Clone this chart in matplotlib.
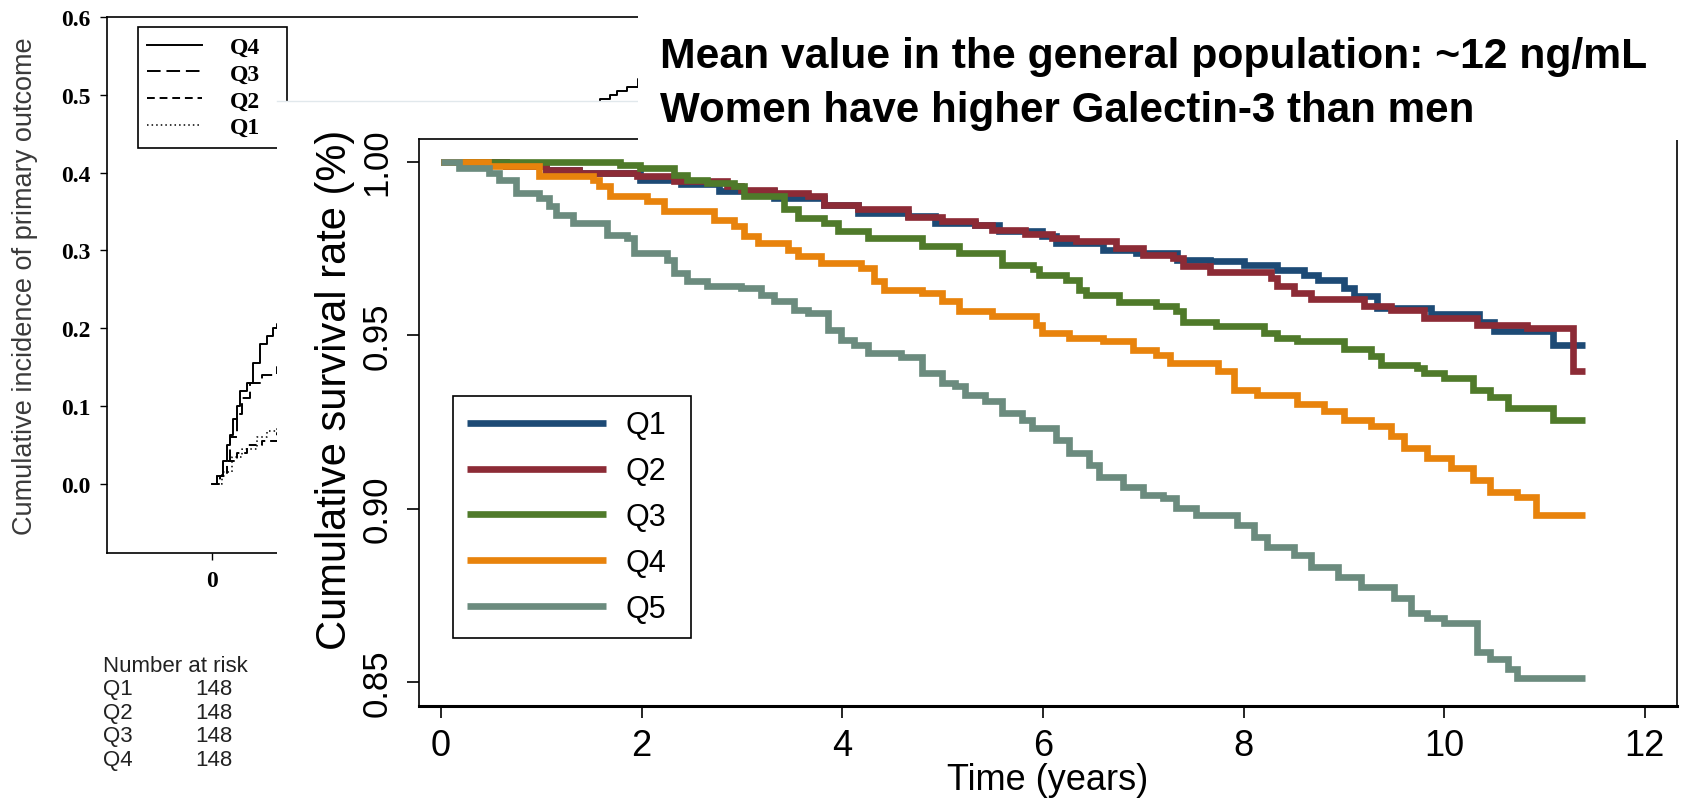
import matplotlib
matplotlib.use("Agg")
import matplotlib.pyplot as plt
from matplotlib import font_manager
from matplotlib.lines import Line2D
from matplotlib.patches import Rectangle

# ---- main Kaplan-Meier curves (years, survival) ----
t_q1 = [0, 0.65, 1.05, 1.38, 1.98, 2.39, 2.77, 3.32, 3.82, 4.16, 4.66, 4.92, 5.32, 5.56, 5.99, 6.13,
        6.60, 6.93, 7.34, 7.67, 8.00, 8.33, 8.60, 8.74, 9.00, 9.10, 9.33, 9.87, 10.35, 10.50, 11.08, 11.40]
s_q1 = [1.000, 0.9986, 0.9977, 0.9967, 0.9948, 0.9934, 0.9914, 0.9895, 0.9876, 0.9852, 0.9842, 0.9823,
        0.9818, 0.9799, 0.9785, 0.9765, 0.9746, 0.9736, 0.9717, 0.9712, 0.9703, 0.9688, 0.9674, 0.9660,
        0.9636, 0.9612, 0.9578, 0.9562, 0.9539, 0.9513, 0.9470, 0.9470]

t_q2 = [0, 0.65, 1.05, 1.38, 1.95, 2.32, 2.85, 2.99, 3.32, 3.66, 3.82, 4.16, 4.66, 4.99, 5.32, 5.49,
        5.82, 6.09, 6.33, 6.73, 7.00, 7.30, 7.40, 7.67, 8.27, 8.33, 8.50, 8.67, 9.20, 9.47, 9.80, 10.33,
        10.82, 11.28, 11.40]
s_q2 = [1.000, 0.9986, 0.9977, 0.9967, 0.9958, 0.9943, 0.9929, 0.9919, 0.9910, 0.9900, 0.9876, 0.9862,
        0.9840, 0.9830, 0.9818, 0.9804, 0.9790, 0.9780, 0.9770, 0.9751, 0.9732, 0.9722, 0.9698, 0.9682,
        0.9664, 0.9640, 0.9621, 0.9605, 0.9583, 0.9573, 0.9549, 0.9529, 0.9519, 0.9397, 0.9397]

t_q3 = [0, 1.78, 1.98, 2.32, 2.45, 2.65, 2.92, 3.02, 3.42, 3.56, 3.82, 3.96, 4.26, 4.79, 5.16, 5.59,
        5.90, 5.96, 6.23, 6.36, 6.43, 6.76, 7.13, 7.33, 7.40, 7.73, 8.20, 8.33, 8.53, 9.00, 9.27, 9.37,
        9.73, 9.80, 10.00, 10.29, 10.46, 10.64, 11.08, 11.40]
s_q3 = [1.000, 0.9991, 0.9982, 0.9962, 0.9948, 0.9939, 0.9929, 0.9900, 0.9862, 0.9838, 0.9823, 0.9799,
        0.9780, 0.9756, 0.9737, 0.9703, 0.9689, 0.9674, 0.9660, 0.9631, 0.9616, 0.9595, 0.9583, 0.9568,
        0.9539, 0.9525, 0.9506, 0.9491, 0.9482, 0.9460, 0.9439, 0.9415, 0.9405, 0.9391, 0.9376, 0.9341,
        0.9321, 0.9291, 0.9255, 0.9255]

t_q4 = [0, 0.47, 0.98, 1.52, 1.58, 1.68, 2.05, 2.22, 2.72, 2.92, 3.02, 3.16, 3.46, 3.56, 3.79, 4.19,
        4.32, 4.42, 4.79, 4.99, 5.16, 5.49, 5.93, 5.99, 6.26, 6.60, 6.90, 7.13, 7.27, 7.74, 7.90, 8.13,
        8.53, 8.80, 9.00, 9.27, 9.47, 9.60, 9.83, 10.07, 10.29, 10.46, 10.73, 10.91, 11.40]
s_q4 = [1.000, 0.9986, 0.9958, 0.9948, 0.9929, 0.9900, 0.9885, 0.9857, 0.9833, 0.9813, 0.9785, 0.9765,
        0.9746, 0.9727, 0.9708, 0.9693, 0.9655, 0.9631, 0.9621, 0.9597, 0.9568, 0.9554, 0.9530, 0.9506,
        0.9491, 0.9482, 0.9458, 0.9443, 0.9419, 0.9395, 0.9342, 0.9328, 0.9300, 0.9280, 0.9256, 0.9237,
        0.9208, 0.9174, 0.9145, 0.9117, 0.9083, 0.9048, 0.9033, 0.8982, 0.8982]

t_q5 = [0, 0.18, 0.48, 0.58, 0.75, 0.98, 1.08, 1.15, 1.32, 1.65, 1.85, 1.92, 2.25, 2.32, 2.45, 2.65,
        2.99, 3.19, 3.32, 3.52, 3.66, 3.86, 3.99, 4.12, 4.26, 4.59, 4.79, 4.99, 5.12, 5.22, 5.42, 5.59,
        5.79, 5.89, 6.13, 6.26, 6.46, 6.56, 6.80, 7.00, 7.20, 7.33, 7.53, 7.93, 8.10, 8.23, 8.50, 8.67,
        8.94, 9.17, 9.50, 9.67, 9.83, 10.00, 10.33, 10.46, 10.64, 10.73, 11.40]
s_q5 = [1.000, 0.9982, 0.9967, 0.9948, 0.9910, 0.9895, 0.9871, 0.9847, 0.9823, 0.9789, 0.9780, 0.9737,
        0.9717, 0.9679, 0.9655, 0.9640, 0.9636, 0.9616, 0.9597, 0.9573, 0.9564, 0.9515, 0.9487, 0.9472,
        0.9448, 0.9438, 0.9391, 0.9362, 0.9352, 0.9328, 0.9309, 0.9275, 0.9256, 0.9232, 0.9198, 0.9160,
        0.9126, 0.9092, 0.9063, 0.9039, 0.9030, 0.9001, 0.8982, 0.8953, 0.8919, 0.8890, 0.8866, 0.8833,
        0.8804, 0.8775, 0.8742, 0.8698, 0.8684, 0.8669, 0.8587, 0.8567, 0.8537, 0.8511, 0.8511]

main_labels = ["Q1", "Q2", "Q3", "Q4", "Q5"]
main_colors = ["#1d4a75", "#8c2b36", "#4f7a2a", "#e8830c", "#6b8b7e"]
main_xticks = [0, 2, 4, 6, 8, 10, 12]
main_yticks = [0.85, 0.90, 0.95, 1.00]

# ---- background (partly hidden) cumulative incidence plot ----
bg_t_q4 = [0, 0.05, 0.11, 0.15, 0.18, 0.21, 0.25, 0.28, 0.35, 0.41, 0.48, 0.55, 0.61, 0.65, 1.0, 1.5,
           2.0, 2.5, 3.0, 3.5, 3.88, 3.98, 4.05, 4.15, 4.26, 4.5]
bg_s_q4 = [0, 0.01, 0.03, 0.05, 0.063, 0.083, 0.10, 0.12, 0.13, 0.155, 0.18, 0.19, 0.20, 0.205, 0.26,
           0.33, 0.38, 0.42, 0.45, 0.475, 0.495, 0.50, 0.505, 0.51, 0.52, 0.53]
bg_t_q3 = [0, 0.05, 0.11, 0.18, 0.25, 0.3, 0.38, 0.5, 0.65, 1.0]
bg_s_q3 = [0, 0.01, 0.03, 0.06, 0.09, 0.11, 0.13, 0.14, 0.15, 0.19]
bg_t_q2 = [0, 0.08, 0.15, 0.25, 0.35, 0.5, 0.65, 1.0]
bg_s_q2 = [0, 0.01, 0.03, 0.04, 0.05, 0.055, 0.065, 0.09]
bg_t_q1 = [0, 0.1, 0.2, 0.3, 0.45, 0.55, 0.65, 1.0]
bg_s_q1 = [0, 0.015, 0.035, 0.045, 0.06, 0.068, 0.072, 0.095]
bg_yticks = [0.0, 0.1, 0.2, 0.3, 0.4, 0.5, 0.6]
bg_xticks = [0, 2, 4, 6, 8, 10, 12]

risk_groups = ["Q1", "Q2", "Q3", "Q4"]
risk_counts = [148, 148, 148, 148]

W, H = 1682, 804


def fig_box(left, top, right, bottom):
    """Pixel box (from top-left) -> figure fraction rect."""
    return [left / W, 1 - bottom / H, (right - left) / W, (bottom - top) / H]


installed = {f.name for f in font_manager.fontManager.ttflist}
SANS = "Liberation Sans"
NARROW = "Liberation Sans Narrow" if "Liberation Sans Narrow" in installed else SANS
SERIF = "Liberation Serif"
plt.rcParams["font.family"] = SANS

fig = plt.figure(figsize=(W / 100, H / 100), dpi=100)

# background chart
ax_bg = fig.add_axes(fig_box(107, 18, 1600, 554))
ax_bg.plot(bg_t_q4, bg_s_q4, color="black", lw=1.4, drawstyle="steps-post")
ax_bg.plot(bg_t_q3, bg_s_q3, color="black", lw=1.4, drawstyle="steps-post", dashes=(7, 3))
ax_bg.plot(bg_t_q2, bg_s_q2, color="black", lw=1.4, drawstyle="steps-post", dashes=(4, 2.5))
ax_bg.plot(bg_t_q1, bg_s_q1, color="black", lw=1.1, drawstyle="steps-post", dashes=(1, 2))
ax_bg.set_xlim(-1.05, 13.88)
ax_bg.set_ylim(-0.0887, 0.6)
ax_bg.set_yticks(bg_yticks)
ax_bg.set_yticklabels([f"{v:.1f}" for v in bg_yticks], family=SERIF, fontweight="bold", fontsize=17)
ax_bg.set_xticks(bg_xticks)
ax_bg.set_xticklabels([str(v) for v in bg_xticks], family=SERIF, fontweight="bold", fontsize=17)
ax_bg.tick_params(length=5, width=1, pad=7)
for sp in ax_bg.spines.values():
    sp.set_linewidth(1.2)
ax_bg.set_ylabel("Cumulative incidence of primary outcome", fontsize=19.5, color="#3a3a3a")
ax_bg.yaxis.set_label_coords(-0.046, 0.5)

bg_handles = [Line2D([], [], color="black", lw=1.4),
              Line2D([], [], color="black", lw=1.4, dashes=(7, 3)),
              Line2D([], [], color="black", lw=1.4, dashes=(4, 2.5)),
              Line2D([], [], color="black", lw=1.1, dashes=(1, 2))]
bg_leg = ax_bg.legend(bg_handles, ["Q4", "Q3", "Q2", "Q1"], loc="upper left",
                      bbox_to_anchor=(138 / W, 1 - 163 / H, (287 - 138) / W, (163 - 28) / H),
                      bbox_transform=fig.transFigure, mode="expand", borderaxespad=0,
                      prop={"family": SERIF, "weight": "bold", "size": 17},
                      handlelength=2.3, handletextpad=1.2, labelspacing=0.22, borderpad=0.4,
                      frameon=True, fancybox=False, edgecolor="black", framealpha=1)
bg_leg.get_frame().set_linewidth(1.2)

fig.text(103 / W, 1 - 667 / H, "Number at risk", fontsize=16, va="center", color="#222222")
for i, (g, n) in enumerate(zip(risk_groups, risk_counts)):
    y = 690 + i * 23.4
    fig.text(103 / W, 1 - y / H, g, fontsize=16, va="center", color="#222222")
    fig.text(195 / W, 1 - y / H, str(n), fontsize=16, va="center", color="#222222")

# white panel of the pasted survival chart
ax_panel = fig.add_axes(fig_box(277, 102, W, H))
ax_panel.set_xticks([])
ax_panel.set_yticks([])
for name, sp in ax_panel.spines.items():
    sp.set_visible(name == "top")
ax_panel.spines["top"].set_color("#e1e8ec")
ax_panel.spines["top"].set_linewidth(1.0)

# main survival chart
ax = fig.add_axes(fig_box(419, 140, 1677, 707))
series = [(t_q1, s_q1), (t_q2, s_q2), (t_q3, s_q3), (t_q4, s_q4), (t_q5, s_q5)]
for (t, s), c, lab in zip(series, main_colors, main_labels):
    ax.plot(t, s, drawstyle="steps-post", color=c, lw=4.8, label=lab,
            solid_joinstyle="miter", solid_capstyle="butt")
ax.set_xlim(-0.219, 12.32)
ax.set_ylim(0.8431, 1.0065)
ax.set_xticks(main_xticks)
ax.set_xticklabels([str(v) for v in main_xticks], fontsize=26)
ax.set_yticks(main_yticks)
ax.set_yticklabels([f"{v:.2f}" for v in main_yticks], fontsize=25, rotation=90, va="center")
ax.tick_params(axis="x", length=8.6, width=1.2, pad=7)
ax.tick_params(axis="y", length=8.6, width=1.2, pad=9.5)
for name, sp in ax.spines.items():
    sp.set_linewidth(2.2 if name == "bottom" else 1.2)
ax.set_xlabel("Time (years)", fontsize=26)
ax.xaxis.set_label_coords(0.5, -0.0988)
ax.set_ylabel("Cumulative survival rate (%)", fontsize=30)
ax.yaxis.set_label_coords(-0.051, 0.559)

leg = ax.legend(loc="upper left",
                bbox_to_anchor=(453 / W, 1 - 664 / H, (691 - 453) / W, (664 - 397) / H),
                bbox_transform=fig.transFigure, mode="expand", borderaxespad=0,
                prop={"family": SANS, "size": 22}, handlelength=4.54, handletextpad=0.62,
                labelspacing=0.52, borderpad=0.47, frameon=True, fancybox=False,
                edgecolor="black", framealpha=1)
leg.get_frame().set_linewidth(1.2)

# white text box pasted on top
fig.add_artist(Rectangle((638 / W, 1 - 141 / H), 1 - 638 / W, 141 / H, transform=fig.transFigure,
                         facecolor="white", edgecolor="none", zorder=2))
line1 = fig.text(660 / W, 1 - 68 / H, "Mean value in the general population: ~12 ng/mL",
                 family=NARROW, fontweight="bold", fontsize=40, va="baseline", zorder=3)
line2 = fig.text(660 / W, 1 - 122 / H, "Women have higher Galectin-3 than men",
                 family=NARROW, fontweight="bold", fontsize=40, va="baseline", zorder=3)

# fit both lines to the measured widths
renderer = fig.canvas.get_renderer()
for txt, target in ((line1, 985), (line2, 812)):
    w = txt.get_window_extent(renderer).width
    txt.set_fontsize(txt.get_fontsize() * target / w)

fig.savefig("out.png", dpi=100, facecolor="white")
